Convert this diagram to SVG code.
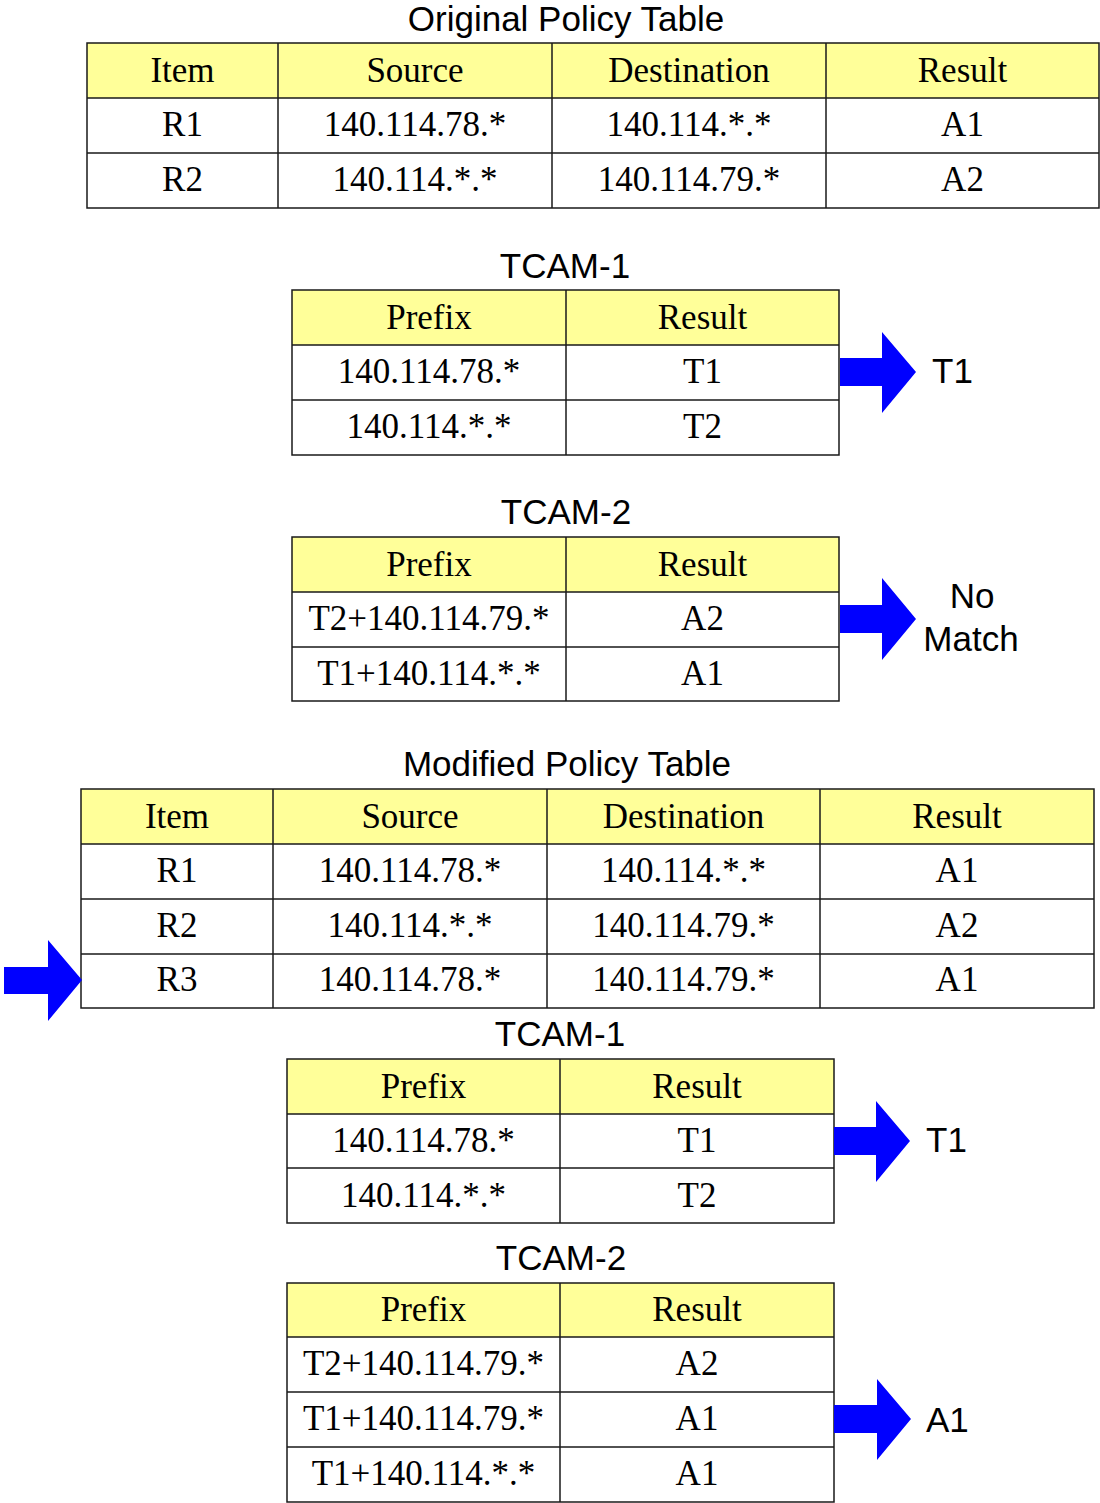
<svg xmlns="http://www.w3.org/2000/svg" width="1100" height="1503" viewBox="0 0 1100 1503">
<style>
.hdr{fill:#FFFF99;stroke:none}
.grid{fill:none;stroke:#1a1a1a;stroke-width:1.5}
.t{font-family:"Liberation Serif","Times New Roman",serif;font-size:35px;fill:#000;text-anchor:middle}
.ttl{font-family:"Liberation Sans",Arial,sans-serif;font-size:35px;fill:#000;text-anchor:middle}
.lbl{font-family:"Liberation Sans",Arial,sans-serif;font-size:35px;fill:#000}
.arr{fill:#0000FF;stroke:none}
</style>
<rect x="0" y="0" width="1100" height="1503" fill="#FFFFFF"/>

<g id="original-policy-table">
<text class="ttl" x="566" y="31">Original Policy Table</text>
<rect class="hdr" x="87" y="43" width="1012" height="55"/>
<path class="grid" d="M87 43H1099V208H87Z M87 98H1099 M87 153H1099 M278 43V208 M552 43V208 M826 43V208"/>
<text class="t" x="182.5" y="82">Item</text>
<text class="t" x="415" y="82">Source</text>
<text class="t" x="689" y="82">Destination</text>
<text class="t" x="962.5" y="82">Result</text>
<text class="t" x="182.5" y="136">R1</text>
<text class="t" x="415" y="136">140.114.78.*</text>
<text class="t" x="689" y="136">140.114.*.*</text>
<text class="t" x="962.5" y="136">A1</text>
<text class="t" x="182.5" y="191">R2</text>
<text class="t" x="415" y="191">140.114.*.*</text>
<text class="t" x="689" y="191">140.114.79.*</text>
<text class="t" x="962.5" y="191">A2</text>
</g>

<g id="tcam1-top">
<text class="ttl" x="565" y="278">TCAM-1</text>
<rect class="hdr" x="292" y="290" width="547" height="55"/>
<path class="grid" d="M292 290H839V455H292Z M292 345H839 M292 400H839 M566 290V455"/>
<text class="t" x="429" y="329">Prefix</text>
<text class="t" x="702.5" y="329">Result</text>
<text class="t" x="429" y="383">140.114.78.*</text>
<text class="t" x="702.5" y="383">T1</text>
<text class="t" x="429" y="438">140.114.*.*</text>
<text class="t" x="702.5" y="438">T2</text>
</g>

<g id="tcam2-top">
<text class="ttl" x="566" y="524">TCAM-2</text>
<rect class="hdr" x="292" y="537" width="547" height="55"/>
<path class="grid" d="M292 537H839V701H292Z M292 592H839 M292 647H839 M566 537V701"/>
<text class="t" x="429" y="576">Prefix</text>
<text class="t" x="702.5" y="576">Result</text>
<text class="t" x="429" y="630">T2+140.114.79.*</text>
<text class="t" x="702.5" y="630">A2</text>
<text class="t" x="429" y="685">T1+140.114.*.*</text>
<text class="t" x="702.5" y="685">A1</text>
</g>

<g id="modified-policy-table">
<text class="ttl" x="567" y="776">Modified Policy Table</text>
<rect class="hdr" x="81" y="789" width="1013" height="55"/>
<path class="grid" d="M81 789H1094V1008H81Z M81 844H1094 M81 899H1094 M81 954H1094 M273 789V1008 M547 789V1008 M820 789V1008"/>
<text class="t" x="177" y="828">Item</text>
<text class="t" x="410" y="828">Source</text>
<text class="t" x="683.5" y="828">Destination</text>
<text class="t" x="957" y="828">Result</text>
<text class="t" x="177" y="882">R1</text>
<text class="t" x="410" y="882">140.114.78.*</text>
<text class="t" x="683.5" y="882">140.114.*.*</text>
<text class="t" x="957" y="882">A1</text>
<text class="t" x="177" y="937">R2</text>
<text class="t" x="410" y="937">140.114.*.*</text>
<text class="t" x="683.5" y="937">140.114.79.*</text>
<text class="t" x="957" y="937">A2</text>
<text class="t" x="177" y="991">R3</text>
<text class="t" x="410" y="991">140.114.78.*</text>
<text class="t" x="683.5" y="991">140.114.79.*</text>
<text class="t" x="957" y="991">A1</text>
</g>

<g id="tcam1-bottom">
<text class="ttl" x="560" y="1046">TCAM-1</text>
<rect class="hdr" x="287" y="1059" width="547" height="55"/>
<path class="grid" d="M287 1059H834V1223H287Z M287 1114H834 M287 1168H834 M560 1059V1223"/>
<text class="t" x="423.5" y="1098">Prefix</text>
<text class="t" x="697" y="1098">Result</text>
<text class="t" x="423.5" y="1152">140.114.78.*</text>
<text class="t" x="697" y="1152">T1</text>
<text class="t" x="423.5" y="1207">140.114.*.*</text>
<text class="t" x="697" y="1207">T2</text>
</g>

<g id="tcam2-bottom">
<text class="ttl" x="561" y="1270">TCAM-2</text>
<rect class="hdr" x="287" y="1283" width="547" height="54"/>
<path class="grid" d="M287 1283H834V1502H287Z M287 1337H834 M287 1392H834 M287 1447H834 M560 1283V1502"/>
<text class="t" x="423.5" y="1321">Prefix</text>
<text class="t" x="697" y="1321">Result</text>
<text class="t" x="423.5" y="1375">T2+140.114.79.*</text>
<text class="t" x="697" y="1375">A2</text>
<text class="t" x="423.5" y="1430">T1+140.114.79.*</text>
<text class="t" x="697" y="1430">A1</text>
<text class="t" x="423.5" y="1485">T1+140.114.*.*</text>
<text class="t" x="697" y="1485">A1</text>
</g>

<g id="connectors">
<path class="arr" d="M840 358H882V332L916 372L882 413V386H840Z"/>
<path class="arr" d="M840 605H882V578L916 619L882 660V633H840Z"/>
<path class="arr" d="M4 967H48V940L82 980L48 1021V994H4Z"/>
<path class="arr" d="M834 1127H876V1101L910 1141L876 1182V1155H834Z"/>
<path class="arr" d="M834 1405H877V1379L911 1419L877 1460V1433H834Z"/>
</g>

<g id="result-labels">
<text class="lbl" x="932" y="383">T1</text>
<text class="ttl" x="972" y="608">No</text>
<text class="ttl" x="971" y="651">Match</text>
<text class="lbl" x="926" y="1152">T1</text>
<text class="lbl" x="926" y="1432">A1</text>
</g>
</svg>
